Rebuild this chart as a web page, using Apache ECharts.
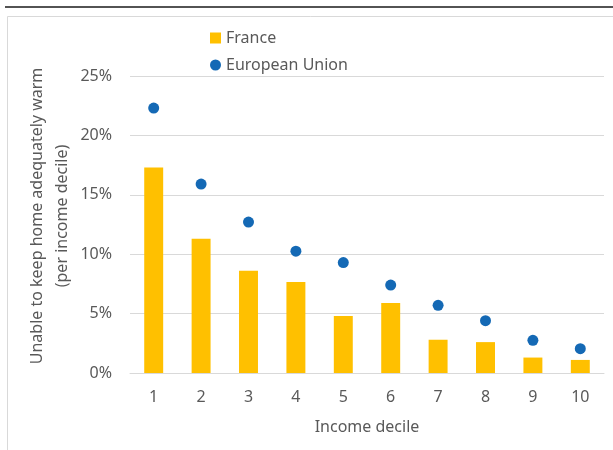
<!DOCTYPE html>
<html>
<head>
<meta charset="utf-8">
<script src="https://cdn.jsdelivr.net/npm/echarts@6/dist/echarts.min.js"></script>
<style>
  html, body { margin: 0; padding: 0; background: #fff; }
  #chart { width: 613px; height: 450px; }
</style>
</head>
<body>
<div id="chart"></div>
<script>
// data (percent)
const deciles = ['1', '2', '3', '4', '5', '6', '7', '8', '9', '10'];
const france = [17.3, 11.3, 8.6, 7.65, 4.8, 5.9, 2.8, 2.6, 1.3, 1.1];
const europeanUnion = [22.3, 15.9, 12.7, 10.25, 9.3, 7.4, 5.7, 4.4, 2.75, 2.05];
const yTicks = [0, 5, 10, 15, 20, 25];
const yTitle = 'Unable to keep home adequately warm\n(per income decile)';

const textGray = '#595959';
const font = 'Noto Sans';

const chart = echarts.init(document.getElementById('chart'));

const option = {
  backgroundColor: '#fff',
  animation: false,
  graphic: [
    // black rule on top + light frame round the chart
    { type: 'line', shape: { x1: 5, y1: 7, x2: 613, y2: 7 }, style: { stroke: '#1a1a1a', lineWidth: 1.5 } },
    { type: 'rect', shape: { x: 7.5, y: 16.5, width: 620, height: 450 }, style: { fill: 'none', stroke: '#d9d9d9', lineWidth: 1 } },
    // y axis title (two lines, rotated)
    {
      type: 'text',
      x: 50,
      y: 216,
      rotation: Math.PI / 2,
      style: {
        text: yTitle,
        fill: textGray,
        font: '16px "Noto Sans"',
        lineHeight: 25,
        align: 'center',
        verticalAlign: 'middle'
      }
    }
  ],
  legend: {
    orient: 'vertical',
    left: 205,
    top: 25,
    itemGap: 11,
    itemWidth: 11,
    itemHeight: 11,
    textStyle: { color: textGray, fontSize: 16, fontFamily: font },
    data: [
      { name: 'France', icon: 'rect' },
      { name: 'European Union', icon: 'circle' }
    ]
  },
  grid: { left: 130, right: 9, top: 76, bottom: 77 },
  xAxis: {
    type: 'category',
    data: deciles,
    name: 'Income decile',
    nameLocation: 'middle',
    nameGap: 46,
    nameTextStyle: { color: textGray, fontSize: 16, fontFamily: font },
    axisLine: { lineStyle: { color: '#d9d9d9', width: 1 } },
    axisTick: { show: false },
    axisLabel: { color: textGray, fontSize: 16, fontFamily: font, margin: 16 }
  },
  yAxis: {
    type: 'value',
    min: 0,
    max: 25,
    interval: 5,
    axisLine: { show: false },
    axisTick: { show: false },
    axisLabel: {
      color: textGray, fontSize: 16, fontFamily: font, margin: 18,
      formatter: v => (yTicks.includes(v) ? v + '%' : '')
    },
    splitLine: { lineStyle: { color: '#d9d9d9', width: 1 } }
  },
  series: [
    {
      name: 'France',
      type: 'bar',
      data: france,
      barWidth: '40%',
      itemStyle: { color: '#FFC000' }
    },
    {
      name: 'European Union',
      type: 'scatter',
      data: europeanUnion,
      symbol: 'circle',
      symbolSize: 11,
      itemStyle: { color: '#1469B5', opacity: 1 }
    }
  ]
};

chart.setOption(option);
</script>
</body>
</html>
